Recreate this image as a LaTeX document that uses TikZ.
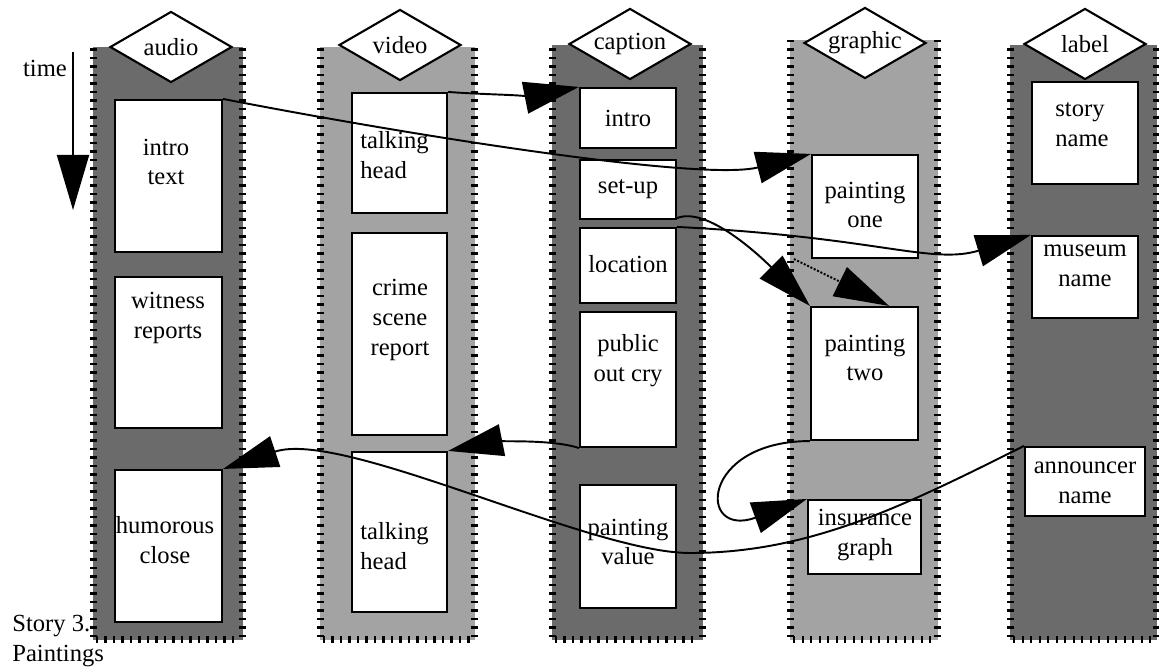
\documentclass[tikz,border=0pt]{standalone}
\usepackage{fontspec}
\setmainfont{Liberation Serif}
\usepackage{tikz}
\usetikzlibrary{arrows.meta,shapes.geometric}

\definecolor{darkfilm}{gray}{0.42}
\definecolor{lightfilm}{gray}{0.64}

\tikzset{
	slot/.style={draw, line width=1.2pt, fill=white, inner sep=0pt},
	slottxt/.style={font=\fontsize{14}{17}\selectfont, align=center, inner sep=0pt},
	track/.style={diamond, draw, line width=1.2pt, fill=white, inner sep=0pt, aspect=1.7,
		minimum width=24.4mm, minimum height=14.2mm, font=\fontsize{14}{17}\selectfont},
	link/.style={line width=1.1pt, -{Triangle[length=11mm,width=6.4mm]}},
	sprocket/.style={line width=1.15pt}
}

\begin{document}
\begin{tikzpicture}[x=0.2mm,y=-0.2mm]
	\useasboundingbox (0,0) rectangle (1159,668);

		%Film strips
		\foreach \xa/\xb/\ya/\tone in {93/243/47/darkfilm, 320/475/47/lightfilm, 552/703/45/darkfilm, 790/938/40/lightfilm, 1010/1157/45/darkfilm}{
			\fill[\tone] (\xa,\ya) rectangle (\xb,640);
			\pgfmathtruncatemacro\nside{(636-\ya)/8.5}
			\foreach \k in {0,...,\nside}{
				\draw[sprocket] (\xa-3,636-\k*8.5) -- (\xa+4,636-\k*8.5);
				\draw[sprocket] (\xb-4,636-\k*8.5) -- (\xb+3,636-\k*8.5);
			}
			\pgfmathtruncatemacro\nbot{(\xb-\xa-8)/8.5}
			\foreach \k in {0,...,\nbot}
				\draw[sprocket] (\xa+4+\k*8.5,636) -- (\xa+4+\k*8.5,643);
		}

		%audio
		\node[slot, minimum width=21.4mm, minimum height=30.4mm] (atext) at (168.5,176) {};
		\node[slot, minimum width=21.4mm, minimum height=30.2mm] (awitness) at (168.5,352.5) {};
		\node[slot, minimum width=21.4mm, minimum height=30.4mm] (ahumor) at (168.5,546) {};
		\node[slottxt] (atextl) at (166,162) {intro\\text};
		\node[slottxt] (awitnessl) at (168,318) {witness\\reports};
		\node[slottxt] (ahumorl) at (165,540) {humorous\\close};

		%video
		\node[slot, minimum width=19mm, minimum height=24mm] (vhead1) at (399.5,153) {};
		\node[slot, minimum width=19mm, minimum height=40.4mm] (vcrime) at (399.5,334) {};
		\node[slot, minimum width=19mm, minimum height=32mm] (vhead2) at (399.5,532) {};
		\node[slottxt, align=left, anchor=west] (vhead1l) at (360,155) {talking\\head};
		\node[slottxt] (vcrimel) at (400,320) {crime\\scene\\report};
		\node[slottxt, align=left, anchor=west] (vhead2l) at (360,546) {talking\\head};

		%caption
		\node[slot, minimum width=19.2mm, minimum height=12mm] (cintro) at (628,118) {};
		\node[slot, minimum width=19.2mm, minimum height=11.8mm] (csetup) at (628,189.5) {};
		\node[slot, minimum width=19.2mm, minimum height=15mm] (cloc) at (628,265.5) {};
		\node[slot, minimum width=19.2mm, minimum height=27mm] (cpublic) at (628,379.5) {};
		\node[slot, minimum width=19.2mm, minimum height=24.6mm] (cvalue) at (628,546.5) {};
		\node[slottxt] (cintrol) at (628,118) {intro};
		\node[slottxt] (csetupl) at (628,189) {set-up};
		\node[slottxt] (clocl) at (628,264) {location};
		\node[slottxt] (cpublicl) at (628,361) {public\\out cry};
		\node[slottxt] (cvaluel) at (628,542) {painting\\value};

		%graphic
		\node[slot, minimum width=21.2mm, minimum height=20.6mm] (gone) at (865,206.5) {};
		\node[slot, minimum width=21.4mm, minimum height=26.6mm] (gtwo) at (864.5,373.5) {};
		\node[slot, minimum width=22.6mm, minimum height=14.8mm] (ginsure) at (864.5,537) {};
		\node[slottxt] (gonel) at (865,205) {painting\\one};
		\node[slottxt] (gtwol) at (865,358) {painting\\two};
		\node[slottxt] (ginsurel) at (865,535) {insurance\\graph};

		%label
		\node[slot, minimum width=21.2mm, minimum height=20.4mm] (lstory) at (1085,133) {};
		\node[slot, minimum width=21.2mm, minimum height=16.4mm] (lmuseum) at (1085,277) {};
		\node[slot, minimum width=24mm, minimum height=13.8mm] (lannounce) at (1085,481.5) {};
		\node[slottxt, align=left, anchor=west] (lstoryl) at (1055,125) {story\\name};
		\node[slottxt] (lmuseuml) at (1085,266) {museum\\name};
		\node[slottxt] (lannouncel) at (1085,483) {announcer\\name};

		%Track heads
		\node[track] (daudio) at (171,47) {audio};
		\node[track] (dvideo) at (400,45) {video};
		\node[track] (dcaption) at (630,44) {caption};
		\node[track] (dgraphic) at (865,43) {graphic};
		\node[track] (dlabel) at (1085,44) {label};

		%time
		\coordinate (tfrom) at (73,52);
		\coordinate (tto) at (73,210);
		\draw[link] (tfrom) -- (tto);
		\node[slottxt] (timel) at (45,68) {time};

		\node[slottxt, align=left, anchor=west] (story) at (12,641) {Story 3.\\Paintings};

		%Links
		\draw[link] (atext.north east) .. controls +(180,35) and +(-110,28) .. (gone.north west);
		\draw[link] (vhead1.north east) .. controls +(40,3) and +(-40,8) .. (cintro.north west);
		\draw[link] ([yshift=0.4mm]csetup.south east) .. controls +(30,-12) and +(-50,-50) .. (gtwo.north west);
		\draw[link] (cloc.north east) .. controls +(200,10) and +(-100,30) .. (lmuseum.north west);
		\draw[link, densely dotted] ([xshift=-3.4mm]gone.south west) -- (gtwo.70);
		\draw[link] (cpublic.south west) .. controls +(-30,-10) and +(40,-8) .. (vhead2.north east);
		\draw[link] (lannounce.north west) .. controls +(-120,60) and +(120,0) .. (690,553)
			.. controls +(-100,0) and +(120,-40) .. (ahumor.north east);
		\draw[link] (gtwo.south west) .. controls +(-110,0) and +(-110,40) .. (ginsure.north west);
\end{tikzpicture}
\end{document}
